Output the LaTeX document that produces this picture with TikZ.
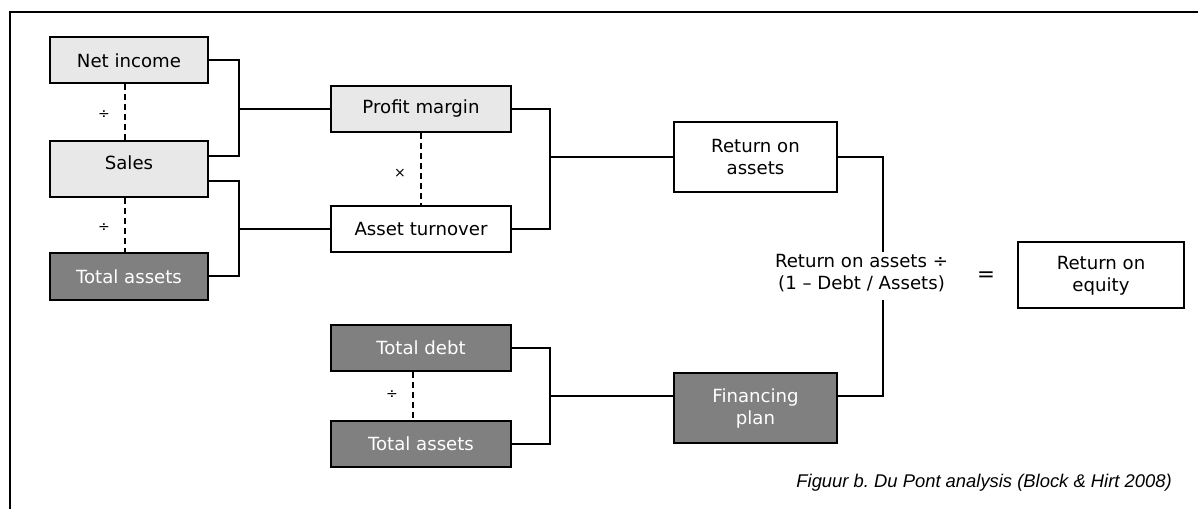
\documentclass[tikz,border=0pt]{standalone}
\usepackage{fontspec}
\setmainfont{DejaVu Sans}
\newfontfamily\capfont{Liberation Sans}
\usetikzlibrary{calc}
\definecolor{lightfill}{HTML}{E8E8E8}
\definecolor{darkfill}{HTML}{808080}
\frenchspacing
\begin{document}
\begin{tikzpicture}[x=0.75pt,y=-0.75pt,
  every node/.style={font=\fontsize{13.6}{16.5}\selectfont, inner sep=0pt},
  box/.style={draw=black, line width=1.5pt, rectangle, align=center},
  lightbox/.style={box, fill=lightfill},
  darkbox/.style={box, fill=darkfill, text=white},
  whitebox/.style={box, fill=white},
  conn/.style={draw=black, line width=1.5pt},
  dashline/.style={draw=black, line width=1.5pt, dash pattern=on 4.5pt off 3pt},
  opsign/.style={font=\fontsize{10.5}{12}\selectfont},
  frameline/.style={draw=black, line width=1.5pt}]

\useasboundingbox (0,0) rectangle (1198,509);

% outer frame (top and left edges)
\draw[frameline] (10,509) -- (10,12) -- (1198,12);

% left column
\node[lightbox, minimum width=119pt, minimum height=34.5pt] (ni) at (129,60.5) {Net income};
\node[lightbox, minimum width=119pt, minimum height=42.5pt] (sales) at (129,169) {};
\node (salesLbl) at (129,163) {Sales};
\node[darkbox, minimum width=119pt, minimum height=35pt] (ta1) at (129,276.5) {Total assets};

% middle column
\node[lightbox, minimum width=135.5pt, minimum height=35pt] (pm) at (421,109) {Profit margin};
\node[whitebox, minimum width=135.5pt, minimum height=35pt] (at) at (421,229) {Asset turnover};
\node[darkbox, minimum width=135.5pt, minimum height=35pt] (td) at (421,348) {Total debt};
\node[darkbox, minimum width=135.5pt, minimum height=35pt] (ta2) at (421,444) {Total assets};

% right column
\node[whitebox, minimum width=122.75pt, minimum height=52.5pt] (roa) at (755.5,157.5) {Return on\\assets};
\node[darkbox, minimum width=122.75pt, minimum height=53pt] (fp) at (755.5,408) {Financing\\plan};
\node[align=center] (eq) at (861.5,273.5) {Return on assets ÷\\(1 – Debt / Assets)};
\node[font=\fontsize{16}{18}\selectfont] (eqsign) at (986,276.5) {=};
\node[whitebox, minimum width=125pt, minimum height=49.5pt] (roe) at (1101,275.5) {Return on\\equity};

% operator signs
\node[opsign] (div1) at (104,115) {÷};
\node[opsign] (div2) at (104,228) {÷};
\node[opsign] (mul1) at (400,173) {×};
\node[opsign] (div3) at (392,395) {÷};

% bus lines
\coordinate (b1) at (239,0);
\coordinate (b2) at (550,0);
\coordinate (b3) at (883,0);
\coordinate (gapTop) at (883,252);
\coordinate (gapBot) at (883,300);
\coordinate (d1) at (125,0);
\coordinate (d2) at (421,0);
\coordinate (d3) at (413,0);
\coordinate (salesUp) at ($(sales.east)+(0,-13)$);
\coordinate (salesDn) at ($(sales.east)+(0,12)$);
\coordinate (fpIn) at ($(fp.west)+(0,-12)$);
\coordinate (fpOut) at ($(fp.east)+(0,-12)$);

% dashed links between dividend and divisor
\draw[dashline] (ni.south -| d1) -- (sales.north -| d1);
\draw[dashline] (sales.south -| d1) -- (ta1.north -| d1);
\draw[dashline] (pm.south -| d2) -- (at.north -| d2);
\draw[dashline] (td.south -| d3) -- (ta2.north -| d3);

% brackets
\draw[conn] (ni.east) -| (b1 |- salesUp) -- (salesUp);
\draw[conn] (b1 |- pm.west) -- (pm.west);
\draw[conn] (salesDn) -| (b1 |- ta1.east) -- (ta1.east);
\draw[conn] (b1 |- at.west) -- (at.west);
\draw[conn] (pm.east) -| (b2 |- at.east) -- (at.east);
\draw[conn] (b2 |- roa.west) -- (roa.west);
\draw[conn] (td.east) -| (b2 |- ta2.east) -- (ta2.east);
\draw[conn] (b2 |- fpIn) -- (fpIn);
\draw[conn] (roa.east) -| (gapTop);
\draw[conn] (gapBot) |- (fpOut);

% caption
\node[font=\capfont\itshape\fontsize{13.8}{16}\selectfont, anchor=east] (caption) at (1172,483) {Figuur b. Du Pont analysis (Block \& Hirt 2008)};
\end{tikzpicture}
\end{document}
